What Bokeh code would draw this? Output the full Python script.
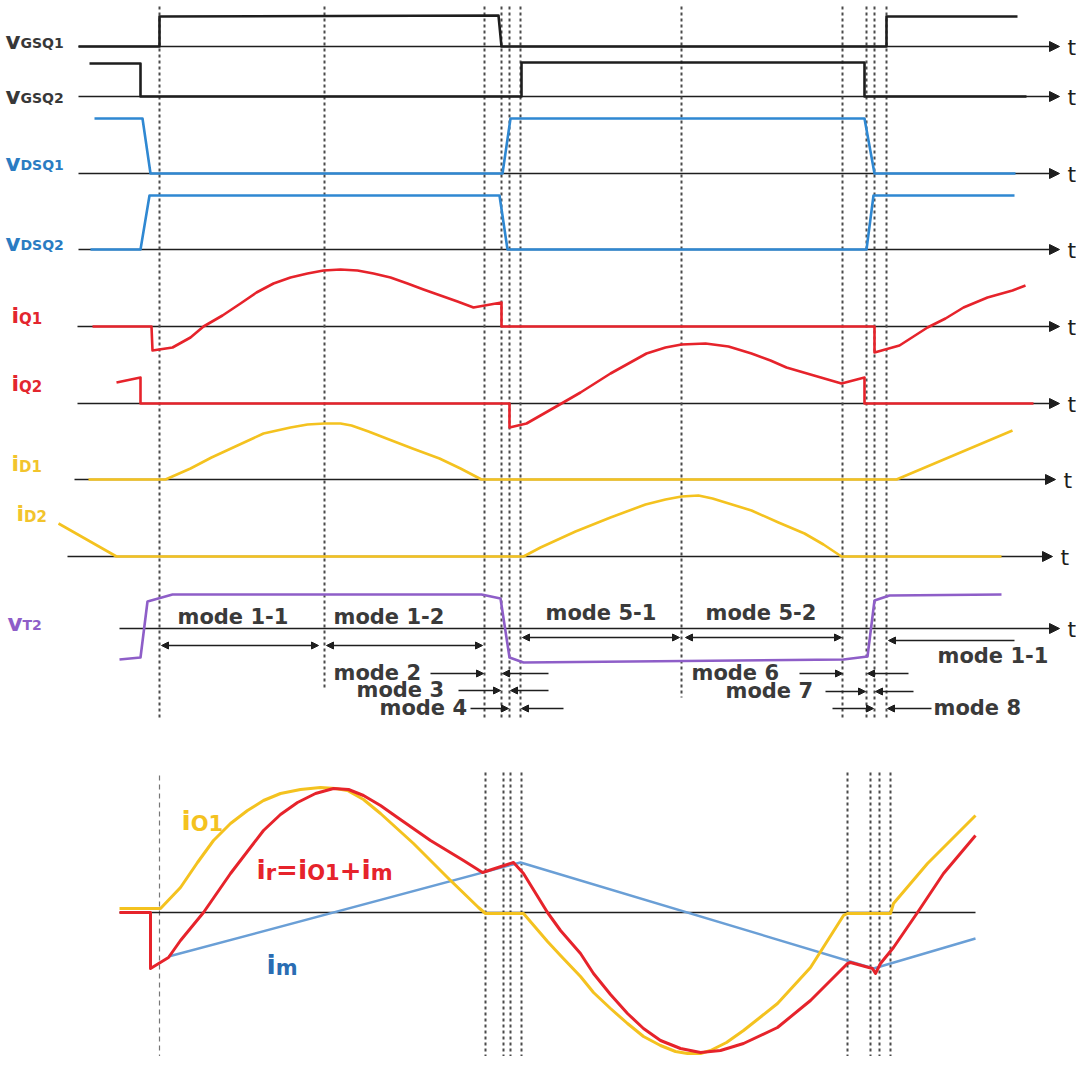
from bokeh.plotting import figure
from bokeh.models import Range1d, Arrow, NormalHead, ColumnDataSource
from bokeh.core.properties import value
from bokeh.embed import file_html
from bokeh.resources import INLINE

# ---------------- waveform data (time in drawing units, value = height above own zero line) ----------
vgsq1_t = [78, 159, 159, 498, 501, 886, 886, 1017]
vgsq1_v = [0, 0, 30, 31, 0, 0, 30, 30]
vgsq2_t = [89, 140, 140, 521, 521, 864, 864, 1026]
vgsq2_v = [33, 33, 0, 0, 34, 34, 0, 0]
vdsq1_t = [94, 142, 150, 502, 510, 864, 874, 1015]
vdsq1_v = [55, 55, 0, 0, 55, 55, 0, 0]
vdsq2_t = [90, 140, 149, 499, 507, 866, 873, 1014]
vdsq2_v = [0, 0, 54, 54, 0, 0, 54, 54]
iq1_t = [92, 151, 152, 172, 190, 203, 222, 240, 256, 273, 290, 307, 323, 340, 357, 373, 390, 407,
         423, 440, 457, 473, 501, 501, 874, 874, 899, 927, 945, 963, 987, 1012, 1025]
iq1_v = [0, 0, -24, -21, -11, 0, 11, 23, 34, 43, 49, 53, 56, 57, 56, 53, 49, 43,
         37, 31, 25, 19, 24, 0, 0, -26, -19, -1, 8, 19, 29, 36, 41]
iq2_t = [116, 140, 140, 509, 509, 526, 540, 561, 580, 610, 646, 665, 681, 705, 728, 751, 770, 786,
         810, 841, 864, 864, 1033]
iq2_v = [21, 26, 0, 0, -24, -20, -12, 0, 11, 30, 50, 56, 59, 60, 57, 50, 43, 36,
         29, 20, 26, 0, 0]
id1_t = [88, 165, 190, 211, 237, 263, 290, 307, 324, 340, 351, 368, 386, 412, 439, 460, 481, 896, 1012]
id1_v = [0, 0, 11, 22, 34, 46, 52, 55, 56, 56, 54, 48, 41, 31, 21, 11, 0, 0, 49]
id2_t = [58, 116, 523, 540, 575, 610, 645, 665, 681, 698, 712, 725, 751, 778, 804, 823, 841, 1001]
id2_v = [33, 0, 0, 9, 25, 39, 52, 57, 60, 61, 58, 54, 46, 34, 23, 12, 0, 0]
vt2_t = [119, 140, 147, 172, 481, 500, 509, 523, 843, 867, 874, 889, 1001]
vt2_v = [-31, -29, 27, 34, 34, 30, -29, -34, -31, -28, 28, 33, 34]

# bottom chart
io1_t = [119, 160, 180, 197, 213, 230, 247, 263, 280, 300, 320, 335, 347, 363, 380, 413, 447, 478,
         485, 523, 547, 560, 580, 593, 610, 627, 643, 660, 675, 687, 700, 710, 726, 743, 777, 810,
         843, 847, 890, 893, 927, 975]
io1_v = [4, 4, 25, 50, 72, 89, 102, 112, 119, 123, 125, 124, 122, 113, 99, 69, 35, 5,
         -1, -1, -29, -43, -64, -80, -96, -111, -124, -133, -139, -141, -141, -138, -130, -118, -91, -55,
         -3, -1, -1, 9, 49, 97]
ir_t = [119, 150, 150, 168, 180, 203, 230, 263, 280, 297, 315, 333, 348, 363, 380, 397, 430, 463,
        482, 513, 523, 547, 560, 580, 593, 610, 627, 643, 660, 680, 700, 720, 743, 777, 810, 847,
        850, 872, 875, 880, 893, 917, 943, 975]
ir_v = [0, 0, -56, -45, -28, 0, 39, 82, 98, 110, 119, 124, 123, 117, 107, 95, 72, 52,
        40, 50, 39, 0, -18, -41, -61, -82, -101, -116, -128, -136, -140, -138, -131, -115, -88, -51,
        -50, -56, -61, -51, -35, 0, 39, 77]
im_t = [168, 520, 873, 975]
im_v = [-44, 50, -56, -26]

# switching instants (vertical dashed markers)
top_marks = [159, 324, 484, 501, 509, 520, 681, 842, 866, 874, 886]
top_marks_end = [718, 690, 718, 718, 718, 718, 697, 718, 718, 718, 718]
bot_marks = [485, 503, 510, 521, 847, 870, 879, 890]

# ---------------- layout ----------------
base = dict(vgsq1=46, vgsq2=96, vdsq1=173, vdsq2=249, iq1=326, iq2=403, id1=479, id2=556, vt2=628, bot=912)
axes = [("vgsq1", 78, 1059), ("vgsq2", 78, 1059), ("vdsq1", 78, 1059), ("vdsq2", 78, 1059),
        ("iq1", 77, 1059), ("iq2", 77, 1059), ("id1", 74, 1055), ("id2", 67, 1052), ("vt2", 119, 1059)]

BLACK = "#1e1e1e"
BLUE = "#2f88d2"
RED = "#e6232b"
YEL = "#f4c21f"
PUR = "#8e5ec8"
IMBLUE = "#6a9fd6"
GREY = "#4a4a4a"

p = figure(width=1076, height=1056, x_range=Range1d(0, 1076), y_range=Range1d(1056, 0),
           output_backend="svg", toolbar_location=None, min_border=0)
p.axis.visible = False
p.grid.visible = False
p.outline_line_color = None
p.background_fill_color = "white"

FONT = value("DejaVu Sans")

# dashed markers
p.segment(x0=top_marks, y0=[6] * len(top_marks), x1=top_marks, y1=top_marks_end,
          line_color=GREY, line_width=2, line_dash="3 3")
p.segment(x0=bot_marks, y0=[772] * len(bot_marks), x1=bot_marks, y1=[1066] * len(bot_marks),
          line_color=GREY, line_width=2, line_dash="3 3")
p.segment(x0=[159], y0=[775], x1=[159], y1=[1065], line_color="#777777", line_width=1.2, line_dash="5 4")

# time axes with arrows (under the traces)
for key, x0, x1 in axes:
    y = base[key]
    p.add_layout(Arrow(end=NormalHead(size=10, fill_color=BLACK, line_color=BLACK),
                       x_start=x0, y_start=y, x_end=x1, y_end=y, line_color=BLACK, line_width=1.3,
                       level="underlay"))
    p.text(x=[x1 + 8], y=[y + 1], text=["t"], text_font=FONT, text_font_size="22px",
           text_color=BLACK, text_baseline="middle", text_align="left")

# bottom axis
p.segment(x0=[119], y0=[base["bot"]], x1=[975], y1=[base["bot"]], line_color=BLACK, line_width=1.6)


def trace(t, v, key, color, width=2.6):
    b = base[key]
    p.line(t, [b - a for a in v], line_color=color, line_width=width, line_join="round")


trace(vgsq1_t, vgsq1_v, "vgsq1", BLACK)
trace(vgsq2_t, vgsq2_v, "vgsq2", BLACK)
trace(vdsq1_t, vdsq1_v, "vdsq1", BLUE)
trace(vdsq2_t, vdsq2_v, "vdsq2", BLUE)
trace(iq1_t, iq1_v, "iq1", RED)
trace(iq2_t, iq2_v, "iq2", RED)
trace(id1_t, id1_v, "id1", YEL)
trace(id2_t, id2_v, "id2", YEL)
trace(vt2_t, vt2_v, "vt2", PUR)
trace(im_t, im_v, "bot", IMBLUE, 2.4)
trace(io1_t, io1_v, "bot", YEL, 3)
trace(ir_t, ir_v, "bot", RED, 3)

# ---------------- labels with subscripts ----------------
W = {'v': .652, 'i': .343, 'G': .821, 'S': .720, 'Q': .850, '1': .696, '2': .696, 'D': .830,
     'T': .682, 'O': .850, 'r': .493, 'm': 1.042, '=': .838, '+': .838, 'o': .687}


def rich(parts, x, y, color):
    for txt, size, dy in parts:
        p.text(x=[x], y=[y + dy], text=[txt], text_font=FONT, text_font_style="bold",
               text_font_size=f"{size}px", text_color=color, text_baseline="alphabetic", text_align="left")
        x += sum(W[c] for c in txt) * size


LGREY = "#383838"
LBLUE = "#2b7cc2"
LRED = "#e3262e"
LYEL = "#f2c42c"
rich([("v", 23, 0), ("GSQ1", 14, 2)], 5, 40, LGREY)
rich([("v", 23, 0), ("GSQ2", 14, 2)], 5, 95, LGREY)
rich([("v", 23, 0), ("DSQ1", 14, 2)], 5, 162, LBLUE)
rich([("v", 23, 0), ("DSQ2", 14, 2)], 5, 242, LBLUE)
rich([("i", 22, 0), ("Q1", 15, 3)], 11, 315, LRED)
rich([("i", 22, 0), ("Q2", 15, 3)], 11, 383, LRED)
rich([("i", 22, 0), ("D1", 15, 3)], 11, 463, LYEL)
rich([("i", 22, 0), ("D2", 15, 3)], 16, 513, LYEL)
rich([("v", 23, 0), ("T2", 14, 2)], 7, 622, PUR)

rich([("i", 27, 0), ("O1", 21, 3)], 181, 820, YEL)
rich([("i", 27, 0), ("r", 21, 3), ("=", 26, 0), ("i", 27, 0), ("O1", 21, 3), ("+", 26, 0),
      ("i", 27, 0), ("m", 21, 3)], 256, 869, RED)
rich([("i", 27, 0), ("m", 21, 3)], 266, 964, "#2a6db3")

# ---------------- mode annotations ----------------
MODEC = "#3a3a3a"
mode_labels = [("mode 1-1", 177, 616), ("mode 1-2", 333, 616), ("mode 5-1", 545, 612), ("mode 5-2", 705, 612),
               ("mode 1-1", 937, 655), ("mode 2", 333, 672), ("mode 3", 356, 689), ("mode 4", 379, 707),
               ("mode 6", 691, 672), ("mode 7", 725, 690), ("mode 8", 933, 707)]
for txt, x, y in mode_labels:
    p.text(x=[x], y=[y], text=[txt], text_font=FONT, text_font_style="bold", text_font_size="21px",
           text_color=MODEC, text_baseline="middle", text_align="left")

# double arrows spanning modes
dbl = ColumnDataSource(dict(x0=[161, 326, 522, 685], x1=[318, 482, 679, 841], y=[645, 645, 637, 637]))
p.add_layout(Arrow(start=NormalHead(size=7, fill_color=BLACK, line_color=BLACK),
                   end=NormalHead(size=7, fill_color=BLACK, line_color=BLACK),
                   x_start="x0", y_start="y", x_end="x1", y_end="y", source=dbl,
                   line_color=BLACK, line_width=1.3))
# single arrows pointing at boundaries
sgl = ColumnDataSource(dict(
    x0=[1014, 430, 548, 458, 548, 470, 563, 799, 908, 825, 913, 832, 931],
    x1=[888, 483, 502, 500, 510, 508, 521, 842, 867, 865, 875, 873, 887],
    y=[640, 673, 673, 690, 690, 708, 708, 673, 673, 691, 691, 708, 708]))
p.add_layout(Arrow(end=NormalHead(size=7, fill_color=BLACK, line_color=BLACK),
                   x_start="x0", y_start="y", x_end="x1", y_end="y", source=sgl,
                   line_color=BLACK, line_width=1.3))

open("out.html", "w").write(file_html(p, INLINE))
